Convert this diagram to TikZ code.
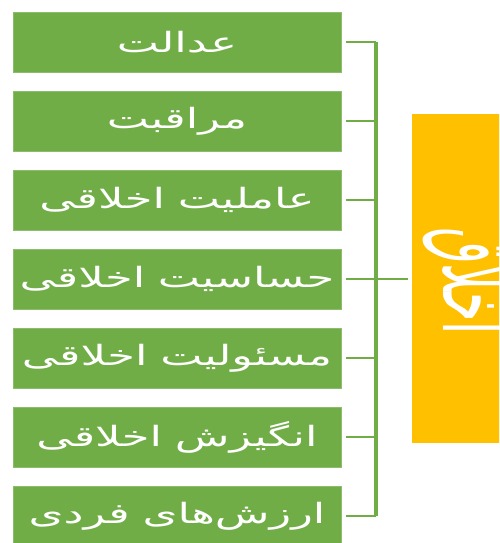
\documentclass[tikz,border=0pt]{standalone}
\usepackage{fontspec}
\usepackage{graphicx}
\TeXXeTstate=1
\newfontfamily\arabicfont[Script=Arabic]{DejaVu Sans}
\definecolor{leafgreen}{HTML}{70AD47}
\definecolor{amber}{HTML}{FFC000}
\newcommand{\wide}[1]{\scalebox{1.6}[1]{\beginR #1\endR}}
\newcommand{\gap}{\hspace{8pt}}
\begin{document}
\begin{tikzpicture}[x=1pt,y=-1pt,
  item/.style={fill=leafgreen, draw=leafgreen!80!white, line width=0.6pt, minimum width=328pt, minimum height=60pt, inner sep=0pt, text=white, font=\arabicfont\fontsize{28}{32}\selectfont},
  tick/.style={draw=leafgreen, line width=2.5pt},
  busline/.style={draw=leafgreen, line width=3.5pt}]
\clip (0,0) rectangle (499,543);
\fill[white] (0,0) rectangle (499,543);
\node[item] (b1) at (177,42) {\wide{عدالت}};
\node[item] (b2) at (177,121) {\wide{مراقبت}};
\node[item] (b3) at (177,200) {\wide{عاملیت\gap اخلاقی}};
\node[item] (b4) at (177,279) {\wide{حساسیت\gap اخلاقی}};
\node[item] (b5) at (177,358) {\wide{مسئولیت\gap اخلاقی}};
\node[item] (b6) at (177,437) {\wide{انگیزش\gap اخلاقی}};
\node[item] (b7) at (177,516) {\wide{ارزش‌های\gap فردی}};
\node[fill=amber, minimum width=92pt, minimum height=329pt, inner sep=0pt, anchor=north west] (o) at (412,114) {};
\node[text=white, font=\arabicfont\fontsize{95}{100}\selectfont, rotate=-90, anchor=base, inner sep=0pt] (ot) at (443,281) {\scalebox{0.5}[1]{\beginR اخلاق\endR}};
\coordinate (bus) at (376,0);
\foreach \i in {1,...,7} {
  \draw[tick, shorten <=5pt] (b\i.east) -- (b\i.east -| bus);
}
\draw[busline] (b1.east -| bus) -- (b7.east -| bus);
\draw[tick, shorten >=4pt] (b4.east -| bus) -- (o.west |- b4.east);
\end{tikzpicture}
\end{document}
